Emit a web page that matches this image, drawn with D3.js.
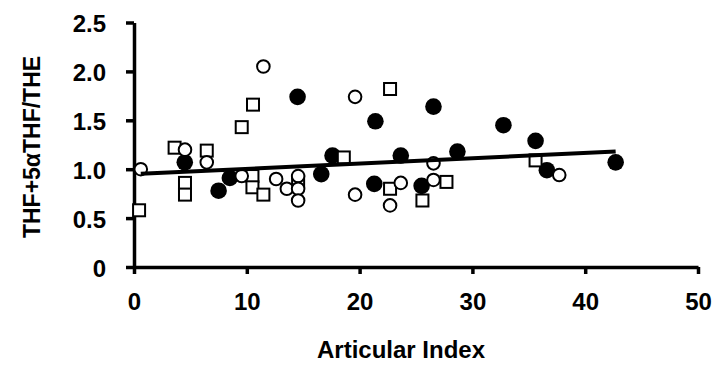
<!DOCTYPE html>
<html>
<head>
<meta charset="utf-8">
<script src="https://cdn.jsdelivr.net/npm/d3@7"></script>
<style>
  html, body { margin: 0; padding: 0; background: #fff; }
  svg { display: block; }
  text { font-family: "Liberation Sans", Arial, sans-serif; font-weight: bold; fill: #000; }
</style>
</head>
<body>
<svg id="chart" width="727" height="375"></svg>
<script>
// ---- data ----
const filledX = [4.5, 7.5, 8.5, 14.5, 16.6, 17.6, 21.4, 21.3, 23.65, 25.5, 26.55, 28.67, 32.75, 35.6, 36.6, 42.7];
const filledY = [1.07, 0.78, 0.91, 1.74, 0.95, 1.14, 1.49, 0.85, 1.14, 0.83, 1.64, 1.18, 1.45, 1.29, 0.99, 1.07];

const squareX = [0.45, 3.6, 4.52, 4.52, 6.45, 9.55, 10.55, 10.5, 10.5, 11.47, 14.55, 18.6, 22.7, 22.7, 25.57, 27.7, 35.6];
const squareY = [0.58, 1.22, 0.86, 0.74, 1.19, 1.43, 1.66, 0.93, 0.815, 0.74, 0.88, 1.12, 1.82, 0.80, 0.68, 0.87, 1.09];

const openX = [0.6, 4.52, 6.45, 9.55, 11.47, 12.6, 13.55, 14.55, 14.55, 14.55, 19.6, 19.6, 22.7, 23.65, 26.55, 26.55, 37.7];
const openY = [1.0, 1.2, 1.07, 0.93, 2.05, 0.90, 0.80, 0.93, 0.80, 0.68, 1.74, 0.74, 0.63, 0.86, 1.06, 0.89, 0.94];

const trendIntercept = 0.95;
const trendSlope = 0.0054;
const trendRange = [0.6, 42.7];

const xTicks = [0, 10, 20, 30, 40, 50];
const yTicks = [0, 0.5, 1.0, 1.5, 2.0, 2.5];
const yTickLabels = ["0", "0.5", "1.0", "1.5", "2.0", "2.5"];
const xTitle = "Articular Index";
const yTitle = "THF+5\u03b1THF/THE";

// ---- layout ----
const svg = d3.select("#chart");
const x = d3.scaleLinear().domain([0, 50]).range([134, 698]);
const y = d3.scaleLinear().domain([0, 2.5]).range([267, 22.5]);

// axes
const xAxis = d3.axisBottom(x).tickValues(xTicks).tickSize(7).tickSizeOuter(0).tickPadding(19)
  .tickFormat(d3.format("d"));
const yAxis = d3.axisLeft(y).tickValues(yTicks).tickSize(8).tickSizeOuter(0).tickPadding(20)
  .tickFormat((d, i) => yTickLabels[i]);

const gx = svg.append("g").attr("transform", `translate(0,${y(0)})`).call(xAxis);
const gy = svg.append("g").attr("transform", `translate(${x(0)},0)`).call(yAxis);

[gx, gy].forEach(g => {
  g.select(".domain").attr("stroke", "#000").attr("stroke-width", 3.5);
  g.selectAll(".tick line").attr("stroke", "#000").attr("stroke-width", 3.5);
  g.selectAll(".tick text").style("font-size", "24px").style("font-family", "'Liberation Sans', Arial, sans-serif")
    .style("font-weight", "bold").attr("fill", "#000");
});
gy.selectAll(".tick text").attr("dy", "0.38em");

// axis titles
svg.append("text").attr("x", 401).attr("y", 358).attr("text-anchor", "middle")
  .style("font-size", "24px").text(xTitle);
svg.append("text").attr("transform", "translate(40,147) rotate(-90)").attr("text-anchor", "middle")
  .style("font-size", "23px").text(yTitle);

// markers
const plot = svg.append("g");
const filled = d3.zip(filledX, filledY);
const squares = d3.zip(squareX, squareY);
const opens = d3.zip(openX, openY);

plot.selectAll("circle.filled").data(filled).join("circle")
  .attr("class", "filled")
  .attr("cx", d => x(d[0])).attr("cy", d => y(d[1])).attr("r", 8.3)
  .attr("fill", "#000");

const sq = 12;
plot.selectAll("rect.sq").data(squares).join("rect")
  .attr("class", "sq")
  .attr("x", d => x(d[0]) - sq / 2).attr("y", d => y(d[1]) - sq / 2)
  .attr("width", sq).attr("height", sq)
  .attr("fill", "#fff").attr("stroke", "#000").attr("stroke-width", 2);

plot.selectAll("circle.open").data(opens).join("circle")
  .attr("class", "open")
  .attr("cx", d => x(d[0])).attr("cy", d => y(d[1])).attr("r", 6.3)
  .attr("fill", "#fff").attr("stroke", "#000").attr("stroke-width", 2);

// trend line
const line = d3.line().x(d => x(d)).y(d => y(trendIntercept + trendSlope * d));
svg.append("path").datum(trendRange).attr("d", line)
  .attr("fill", "none").attr("stroke", "#000").attr("stroke-width", 4);
</script>
</body>
</html>
